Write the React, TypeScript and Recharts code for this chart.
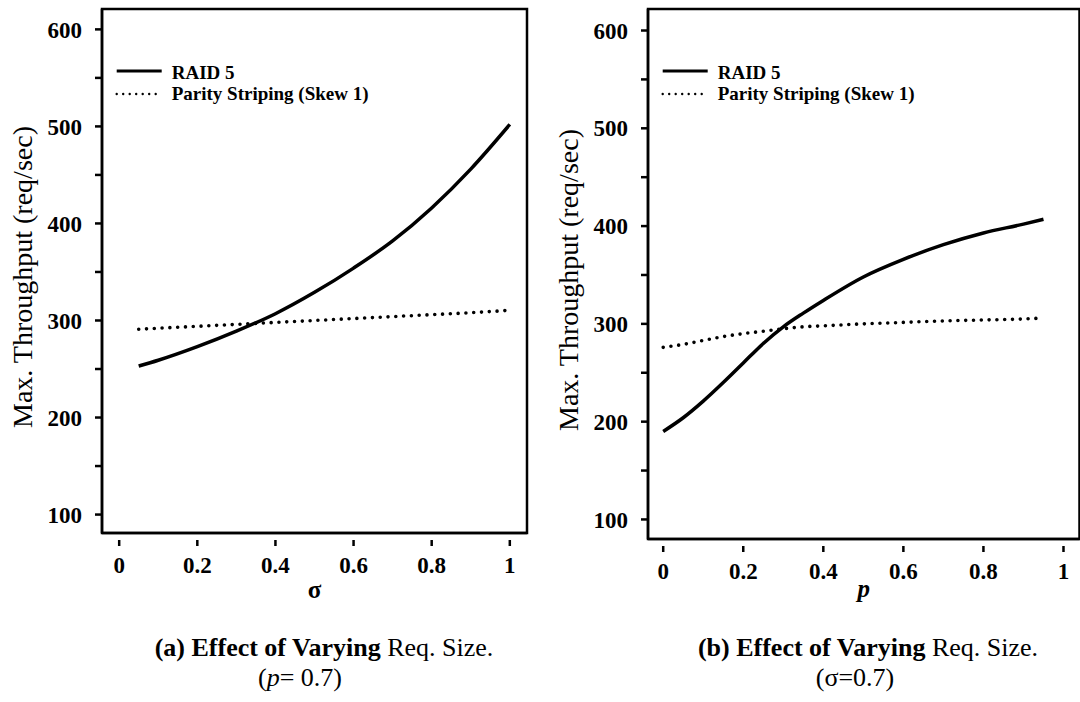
import React from 'react';
import { LineChart, Line, XAxis, YAxis, Legend, ReferenceArea } from 'recharts';

// (a) sweep over sigma, p = 0.7
const sigmaSteps = [0.05, 0.1, 0.2, 0.3, 0.4, 0.5, 0.6, 0.7, 0.8, 0.9, 1.0];
const raid5BySigma = [253, 259, 273, 289, 307, 329, 354, 382, 416, 456, 502];
const parityBySigma = [291, 292, 294, 296, 298, 300, 302, 304, 306, 308, 310.5];

// (b) sweep over p, sigma = 0.7
const pSteps = [0, 0.05, 0.1, 0.15, 0.2, 0.25, 0.3, 0.35, 0.4, 0.5, 0.6, 0.7, 0.8, 0.9, 0.95];
const raid5ByP = [190, 204, 221, 240, 260, 280, 297, 311, 324, 348, 366, 381, 393, 402, 407];
const parityByP = [276, 279, 283, 287, 290, 292.5, 295, 297, 298, 300, 301.5, 303, 304, 305, 306];

const xTicks = [0, 0.2, 0.4, 0.6, 0.8, 1];
const yTicks = [100, 150, 200, 250, 300, 350, 400, 450, 500, 550, 600];

const RAID_NAME = 'RAID 5';
const PARITY_NAME = 'Parity Striping (Skew 1)';
const Y_TITLE = 'Max. Throughput (req/sec)';

const dataA = sigmaSteps.map((s, i) => ({ x: s, raid5: raid5BySigma[i], parity: parityBySigma[i] }));
const dataB = pSteps.map((p, i) => ({ x: p, raid5: raid5ByP[i], parity: parityByP[i] }));

const FONT = '"Liberation Serif", "Times New Roman", Times, serif';

function XTick({ x, y, payload }: any) {
  return (
    <g>
      <line x1={x} x2={x} y1={y + 7} y2={y + 13} stroke="#000" strokeWidth={2.5} />
      <text x={x} y={y + 40} textAnchor="middle" fill="#000" fontFamily={FONT} fontSize={23} fontWeight="bold">
        {String(payload.value)}
      </text>
    </g>
  );
}

function LegendBox({ payload }: any) {
  const items = payload ?? [];
  return (
    <svg width={300} height={48} style={{ overflow: 'visible' }}>
      {items.map((entry: any) => {
        const dotted = entry.value !== RAID_NAME;
        const ly = dotted ? 34 : 11;
        const ty = dotted ? 39.5 : 18.5;
        return (
          <g key={entry.value}>
            <line
              x1={4.7}
              x2={dotted ? 48 : 49.7}
              y1={ly}
              y2={ly}
              stroke="#000"
              strokeWidth={dotted ? 2.4 : 3.2}
              strokeDasharray={dotted ? '0 6.5' : undefined}
              strokeLinecap={dotted ? 'round' : 'butt'}
            />
            <text x={59.7} y={ty} fontFamily={FONT} fontSize={19} fontWeight="bold" fill="#000">
              {entry.value}
            </text>
          </g>
        );
      })}
    </svg>
  );
}

type PanelProps = {
  data: { x: number; raid5: number; parity: number }[];
  left: number;
  width: number;
  height: number;
  marginTop: number;
  marginRight: number;
  xAxisHeight: number;
  xDomain: [number, number];
  yDomain: [number, number];
  xTitle: React.ReactNode;
  xTitleOffset: number;
};

function Panel(props: PanelProps) {
  const { data, left, width, height, marginTop, marginRight, xAxisHeight, xDomain, yDomain, xTitle, xTitleOffset } = props;
  return (
    <div style={{ position: 'absolute', left, top: 0 }}>
      <LineChart width={width} height={height} data={data} margin={{ top: marginTop, right: marginRight, bottom: 0, left: 0 }}>
        <XAxis
          dataKey="x"
          type="number"
          domain={xDomain}
          ticks={xTicks}
          allowDataOverflow
          height={xAxisHeight}
          axisLine={{ stroke: '#000', strokeWidth: 2.5 }}
          tickLine={false}
          tickSize={0}
          tickMargin={0}
          tick={<XTick />}
          label={{
            content: ({ viewBox }: any) => (
              <text
                x={viewBox.x + viewBox.width / 2}
                y={viewBox.y + xTitleOffset}
                textAnchor="middle"
                fill="#000"
                fontFamily={FONT}
                fontSize={25}
                fontWeight="bold"
              >
                {xTitle}
              </text>
            ),
          }}
        />
        <YAxis
          type="number"
          domain={yDomain}
          ticks={yTicks}
          allowDataOverflow
          width={102}
          axisLine={{ stroke: '#000', strokeWidth: 2.5 }}
          tickLine={{ stroke: '#000', strokeWidth: 2.5 }}
          tickSize={7}
          tickMargin={13}
          tickFormatter={(v: number) => (v % 100 === 0 ? String(v) : '')}
          tick={{ fill: '#000', fontFamily: FONT, fontSize: 23, fontWeight: 'bold' }}
          label={{
            content: ({ viewBox }: any) => {
              const lx = viewBox.x + 32;
              const ly = viewBox.y + viewBox.height / 2 + 6;
              return (
                <text x={lx} y={ly} transform={`rotate(-90, ${lx}, ${ly})`} textAnchor="middle" fill="#000" fontFamily={FONT} fontSize={28}>
                  {Y_TITLE}
                </text>
              );
            },
          }}
        />
        {/* box around the plot */}
        <ReferenceArea
          x1={xDomain[0]}
          x2={xDomain[1]}
          y1={yDomain[0]}
          y2={yDomain[1]}
          fill="none"
          stroke="#000"
          strokeWidth={2.5}
          ifOverflow="visible"
        />
        <Legend
          layout="vertical"
          align="center"
          verticalAlign="middle"
          content={<LegendBox />}
          wrapperStyle={{ top: 60, left: 112, width: 300, height: 48 }}
        />
        <Line type="monotone" dataKey="raid5" name={RAID_NAME} stroke="#000" strokeWidth={3.5} dot={false} isAnimationActive={false} />
        <Line
          type="monotone"
          dataKey="parity"
          name={PARITY_NAME}
          stroke="#000"
          strokeWidth={3.6}
          strokeDasharray="0 7.8"
          strokeLinecap="round"
          dot={false}
          isAnimationActive={false}
        />
      </LineChart>
    </div>
  );
}

export default function App() {
  return (
    <div style={{ position: 'absolute', left: 0, top: 0, width: 1080, height: 702, overflow: 'hidden', background: '#fff' }}>
      <Panel
        data={dataA}
        left={0}
        width={540}
        height={625}
        marginTop={9}
        marginRight={13}
        xAxisHeight={92}
        xDomain={[-0.044, 1.044]}
        yDomain={[81, 621]}
        xTitle="σ"
        xTitleOffset={65}
      />
      <Panel
        data={dataB}
        left={546}
        width={540}
        height={632}
        marginTop={9}
        marginRight={6.5}
        xAxisHeight={93}
        xDomain={[-0.038, 1.04]}
        yDomain={[80, 622]}
        xTitle={<tspan fontStyle="italic">p</tspan>}
        xTitleOffset={58}
      />
      <svg width={1080} height={702} style={{ position: 'absolute', left: 0, top: 0, pointerEvents: 'none' }}>
        <g fontFamily={FONT} fontSize={26} fill="#000" textAnchor="middle">
          <text x={324} y={656}>
            <tspan fontWeight="bold">(a) Effect of Varying</tspan> Req. Size.
          </text>
          <text x={300} y={686}>
            (<tspan fontStyle="italic">p</tspan>= 0.7)
          </text>
          <text x={868} y={656}>
            <tspan fontWeight="bold">(b) Effect of Varying</tspan> Req. Size.
          </text>
          <text x={855} y={686}>(σ=0.7)</text>
        </g>
      </svg>
    </div>
  );
}
